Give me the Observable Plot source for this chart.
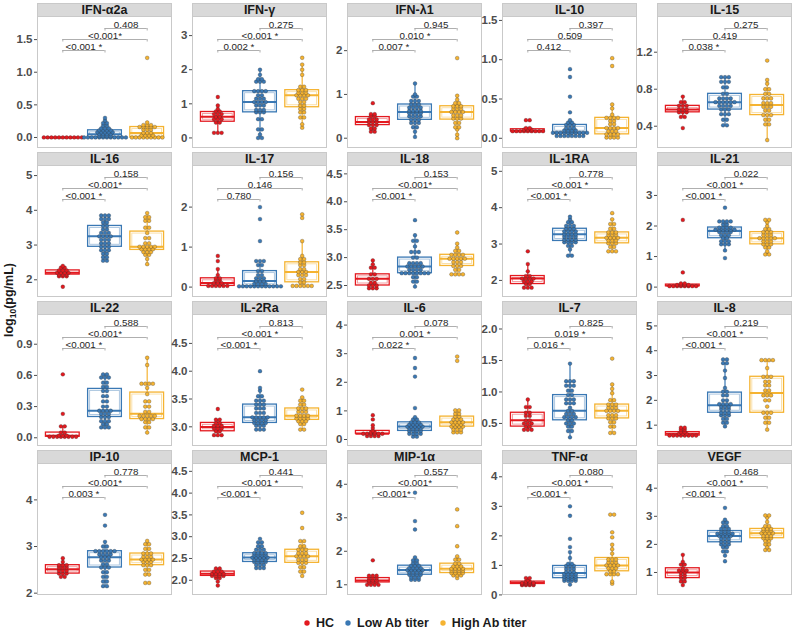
<!DOCTYPE html>
<html><head><meta charset="utf-8">
<script src="https://cdn.jsdelivr.net/npm/d3@7"></script>
<script src="https://cdn.jsdelivr.net/npm/@observablehq/plot@0.6"></script>
<style>
body{margin:0;background:#fff;font-family:"Liberation Sans",Arial,sans-serif;}
#chart{position:relative;width:795px;height:633px;overflow:hidden;background:#fff;}
.frame{position:absolute;border:1px solid #c9c9c9;box-sizing:border-box;}
.strip{position:absolute;background:#d9d9d9;border:1px solid #c9c9c9;box-sizing:border-box;font-weight:bold;font-size:12.5px;text-align:center;line-height:12px;color:#1a1a1a;}
.panel{position:absolute;}
.panel svg{overflow:visible;}
#ytitle{position:absolute;left:10px;top:300px;transform:translate(-50%,-50%) rotate(-90deg);font-weight:bold;font-size:12.5px;white-space:nowrap;color:#1a1a1a;}
#ytitle sub{font-size:8.5px;}
#legend{position:absolute;top:616px;left:302px;display:flex;align-items:center;font-weight:bold;font-size:12.5px;color:#1a1a1a;}
#legend .it{display:flex;align-items:center;margin-right:9px;}
#legend svg{margin-right:4px;}
</style></head><body><div id="chart"></div>
<script>
// ---------- data ----------
const cytokines = ["IFN-α2a","IFN-γ","IFN-λ1","IL-10","IL-15","IL-16","IL-17","IL-18","IL-1RA","IL-21","IL-22","IL-2Ra","IL-6","IL-7","IL-8","IP-10","MCP-1","MIP-1α","TNF-α","VEGF"];
const groups = ["HC","Low Ab titer","High Ab titer"];
const groupColors = ["#E3191F","#3A78B4","#F5B331"];

const yDomains = [[-0.169,1.854],[-0.31,3.56],[-0.235,2.78],[-0.13,1.55],[0.159,1.586],
  [1.49,5.29],[-0.26,3.04],[2.285,4.65],[1.53,5.16],[-0.34,3.98],
  [-0.084,1.186],[2.646,5.02],[-0.245,4.37],[0.134,2.23],[0.14,5.46],
  [1.95,4.78],[1.65,4.68],[0.68,4.62],[-0.02,4.45],[0.18,4.88]];
const yTicks = [[0,0.5,1,1.5],[0,1,2,3],[0,1,2],[0,0.5,1,1.5],[0.4,0.8,1.2],
  [2,3,4,5],[0,1,2],[2.5,3,3.5,4,4.5],[2,3,4,5],[0,1,2,3],
  [0,0.3,0.6,0.9],[3,3.5,4,4.5],[0,1,2,3,4],[0.5,1,1.5,2],[1,2,3,4,5],
  [2,3,4],[2,2.5,3,3.5,4,4.5],[1,2,3,4],[0,1,2,3,4],[1,2,3,4]];
const yTickDigits = [1,0,0,1,1, 0,0,1,0,0, 1,1,0,1,0, 0,1,0,0,0];

// p-values: [HC vs Low, HC vs High, Low vs High]
const pLabels = [
  ["<0.001 *","<0.001*","0.408"],["0.002 *","<0.001 *","0.275"],["0.007 *","0.010 *","0.945"],["0.412","0.509","0.397"],["0.038 *","0.419","0.275"],
  ["<0.001 *","<0.001*","0.158"],["0.780","0.146","0.156"],["<0.001 *","<0.001*","0.153"],["<0.001 *","<0.001 *","0.778"],["<0.001 *","<0.001 *","0.022"],
  ["<0.001 *","<0.001*","0.588"],["<0.001 *","<0.001 *","0.813"],["0.022 *","0.001 *","0.078"],["0.016 *","0.019 *","0.825"],["<0.001 *","<0.001 *","0.219"],
  ["0.003 *","<0.001*","0.778"],["<0.001 *","<0.001 *","0.441"],["<0.001*","<0.001*","0.557"],["<0.001 *","<0.001 *","0.080"],["<0.001 *","<0.001 *","0.468"]];

// observed values as [log10 value, number of subjects at that level]
const hcData = [
  [[0,11]],
  [[0.15,3],[0.45,2],[0.55,3],[0.62,2],[0.7,3],[0.78,2],[0.85,1],[0.95,1],[1.2,1]],
  [[0.15,2],[0.22,2],[0.3,3],[0.37,3],[0.43,3],[0.5,2],[0.55,2],[0.8,1]],
  [[0.09,9],[0.11,3],[0.13,2],[0.23,2]],
  [[0.38,1],[0.5,2],[0.55,3],[0.58,3],[0.62,3],[0.66,2],[0.72,1]],
  [[1.8,1],[2.1,3],[2.15,3],[2.2,4],[2.27,3],[2.35,2],[2.4,1]],
  [[0.03,6],[0.1,3],[0.17,2],[0.22,2],[0.3,1],[0.45,1],[0.65,1],[0.78,1]],
  [[2.45,3],[2.5,3],[2.55,2],[2.62,3],[2.7,2],[2.82,2],[2.88,1],[2.95,1]],
  [[1.8,3],[1.9,2],[1.97,3],[2.05,4],[2.12,2],[2.25,1],[2.45,1],[2.8,1]],
  [[0.03,8],[0.07,4],[0.12,2],[0.48,1],[2.2,1]],
  [[0.01,8],[0.02,3],[0.05,2],[0.11,2],[0.23,1],[0.61,1]],
  [[2.85,3],[2.92,2],[2.97,3],[3.02,3],[3.07,2],[3.13,2],[3.32,1]],
  [[0.12,4],[0.2,6],[0.25,2],[0.3,1],[0.4,1],[0.5,1],[0.7,1],[0.85,1]],
  [[0.4,3],[0.45,2],[0.5,3],[0.55,2],[0.62,2],[0.67,2],[0.76,2],[0.88,1]],
  [[0.58,8],[0.65,3],[0.72,2],[0.82,2],[0.9,2]],
  [[2.35,2],[2.42,3],[2.48,3],[2.55,3],[2.6,3],[2.67,1],[2.75,1]],
  [[1.88,1],[1.97,1],[2.05,2],[2.1,4],[2.15,4],[2.2,3],[2.27,2]],
  [[1.0,4],[1.07,3],[1.13,3],[1.2,3],[1.27,3],[1.73,1]],
  [[0.33,4],[0.37,4],[0.4,4],[0.45,2],[0.5,1],[0.57,2]],
  [[0.55,1],[0.68,2],[0.8,2],[0.9,2],[1.0,2],[1.07,3],[1.15,1],[1.28,2],[1.38,1],[1.63,1]]
];
const lowData = [
  [[0,12],[0.02,4],[0.05,4],[0.08,5],[0.11,4],[0.14,3],[0.18,2],[0.22,2],[0.26,1],[0.3,1]],
  [[0,2],[0.1,1],[0.25,2],[0.55,2],[0.75,3],[0.82,3],[0.95,3],[1.05,4],[1.15,3],[1.25,2],[1.37,4],[1.65,3],[1.72,2],[1.85,1],[2.0,1]],
  [[0.03,1],[0.15,1],[0.25,2],[0.35,3],[0.42,3],[0.5,4],[0.57,4],[0.63,4],[0.7,4],[0.77,3],[0.85,3],[0.95,2],[1.0,1],[1.25,1]],
  [[0.03,8],[0.07,10],[0.1,4],[0.13,3],[0.17,3],[0.2,2],[0.23,1],[0.33,1],[0.53,1],[0.78,1],[0.88,1]],
  [[0.41,2],[0.47,2],[0.53,3],[0.58,3],[0.62,4],[0.66,6],[0.7,4],[0.75,2],[0.82,2],[0.88,3],[0.93,3]],
  [[2.55,2],[2.65,2],[2.75,2],[2.85,3],[2.95,3],[3.05,3],[3.15,3],[3.25,4],[3.35,3],[3.45,2],[3.55,2],[3.65,2],[3.75,3],[3.85,3]],
  [[0.02,12],[0.08,4],[0.15,3],[0.22,3],[0.3,2],[0.4,2],[0.55,2],[0.65,3],[1.15,1],[1.7,1],[2.0,1]],
  [[2.48,1],[2.57,2],[2.65,2],[2.72,8],[2.78,4],[2.84,5],[2.9,4],[3.0,2],[3.1,3],[3.2,1],[3.3,2],[3.4,1],[3.67,1]],
  [[2.68,2],[2.85,1],[2.95,2],[3.05,4],[3.12,4],[3.2,4],[3.27,4],[3.35,4],[3.42,3],[3.5,3],[3.6,2],[3.68,1],[3.75,1]],
  [[0.95,1],[1.2,1],[1.4,3],[1.5,3],[1.6,2],[1.7,3],[1.8,4],[1.88,6],[1.95,4],[2.05,2],[2.15,4],[2.6,1]],
  [[0.1,3],[0.13,2],[0.16,3],[0.2,3],[0.23,3],[0.26,4],[0.3,2],[0.35,2],[0.4,2],[0.45,2],[0.49,2],[0.53,2],[0.58,3],[0.61,2]],
  [[2.95,3],[3.02,3],[3.07,4],[3.12,4],[3.17,5],[3.25,3],[3.33,3],[3.4,3],[3.47,3],[3.55,2],[3.65,1],[3.7,1],[4.0,1]],
  [[0.1,2],[0.2,4],[0.3,4],[0.38,4],[0.45,5],[0.52,4],[0.6,3],[0.7,2],[0.78,1],[1.1,1],[2.2,1],[2.5,1],[2.85,1]],
  [[0.28,1],[0.38,2],[0.45,2],[0.5,3],[0.55,2],[0.6,4],[0.65,3],[0.7,2],[0.75,1],[0.82,3],[0.88,3],[0.95,2],[1.02,2],[1.1,3],[1.17,3],[1.45,1]],
  [[0.95,1],[1.1,2],[1.25,2],[1.4,3],[1.5,3],[1.65,3],[1.75,3],[1.85,4],[2.0,2],[2.2,2],[2.35,2],[2.5,1],[2.9,1],[3.2,1],[3.5,2],[3.65,2]],
  [[2.15,2],[2.25,2],[2.35,2],[2.45,2],[2.55,3],[2.62,2],[2.7,3],[2.77,3],[2.83,4],[2.9,6],[3.0,2],[3.1,1],[3.45,1],[3.68,1]],
  [[2.28,3],[2.35,3],[2.42,4],[2.47,4],[2.52,5],[2.57,4],[2.62,4],[2.7,3],[2.78,2],[2.87,2],[2.95,1]],
  [[1.15,3],[1.22,3],[1.3,4],[1.37,4],[1.44,5],[1.5,4],[1.57,3],[1.65,2],[1.73,2],[1.82,1],[2.65,1],[2.9,1],[3.75,1]],
  [[0.35,1],[0.48,4],[0.55,4],[0.62,4],[0.7,4],[0.78,3],[0.88,3],[0.98,3],[1.05,2],[1.25,1],[1.45,1],[1.62,1],[1.9,1],[2.68,1],[3.0,1]],
  [[1.4,1],[1.6,1],[1.75,2],[1.9,2],[2.0,3],[2.1,3],[2.2,3],[2.3,4],[2.38,5],[2.45,3],[2.55,3],[2.65,2],[2.78,2],[2.88,1],[3.3,1]]
];
const highData = [
  [[0,9],[0.03,4],[0.07,3],[0.12,3],[0.16,5],[0.19,3],[0.23,1],[1.22,1]],
  [[0.3,1],[0.4,1],[0.6,2],[0.75,2],[0.85,2],[0.95,2],[1.05,2],[1.15,3],[1.25,4],[1.32,3],[1.4,3],[1.5,2],[1.85,1],[2.0,1],[2.15,1],[2.35,1]],
  [[0,1],[0.08,1],[0.2,1],[0.25,2],[0.35,2],[0.45,3],[0.52,3],[0.6,4],[0.67,3],[0.73,3],[0.8,2],[0.88,1],[0.97,1],[1.83,1]],
  [[0.01,4],[0.05,4],[0.09,3],[0.13,4],[0.18,2],[0.22,2],[0.26,4],[0.3,1],[0.38,1],[0.43,1],[0.92,1],[1.02,1]],
  [[0.25,1],[0.42,2],[0.47,2],[0.52,3],[0.57,2],[0.61,3],[0.65,3],[0.7,3],[0.75,2],[0.8,2],[0.86,1],[0.9,1],[1.11,1]],
  [[2.45,1],[2.6,1],[2.72,2],[2.8,3],[2.88,4],[2.95,5],[3.05,2],[3.2,2],[3.35,1],[3.5,2],[3.7,2],[3.8,2],[3.92,1]],
  [[0.03,6],[0.12,2],[0.2,2],[0.3,3],[0.38,3],[0.45,2],[0.55,2],[0.62,2],[0.7,2],[0.78,1],[1.15,1],[1.73,1],[1.82,1]],
  [[2.7,4],[2.78,2],[2.85,3],[2.92,3],[2.98,5],[3.05,4],[3.12,2],[3.18,1],[3.25,1],[3.45,1]],
  [[2.8,3],[2.92,2],[3.02,3],[3.1,3],[3.17,4],[3.25,3],[3.32,3],[3.42,2],[3.55,2],[3.68,1],[3.85,1]],
  [[1.07,2],[1.17,1],[1.3,2],[1.4,3],[1.5,3],[1.6,5],[1.7,3],[1.8,3],[1.9,2],[2.0,1],[2.12,1],[2.2,2]],
  [[0.05,1],[0.1,2],[0.15,2],[0.18,4],[0.21,5],[0.25,2],[0.3,2],[0.35,2],[0.42,1],[0.48,1],[0.52,4],[0.7,1],[0.77,1]],
  [[2.95,2],[3.05,2],[3.1,3],[3.15,4],[3.2,4],[3.27,3],[3.33,3],[3.4,2],[3.47,2],[3.53,1],[3.67,1]],
  [[0.25,3],[0.35,3],[0.45,4],[0.52,3],[0.6,4],[0.7,3],[0.8,2],[0.9,2],[1.02,2],[2.75,1],[2.9,1]],
  [[0.35,2],[0.45,2],[0.52,2],[0.58,3],[0.63,3],[0.7,4],[0.75,3],[0.8,3],[0.87,2],[0.98,1],[1.05,1],[1.12,1],[1.53,1]],
  [[0.82,1],[1.1,2],[1.3,2],[1.5,3],[1.75,1],[2.0,2],[2.2,3],[2.4,2],[2.6,2],[2.75,2],[2.95,3],[3.3,1],[3.62,4]],
  [[2.22,2],[2.4,2],[2.5,2],[2.6,3],[2.67,3],[2.72,4],[2.78,3],[2.85,3],[2.95,2],[3.05,2],[3.12,1]],
  [[2.1,1],[2.2,2],[2.3,2],[2.4,3],[2.47,3],[2.55,4],[2.62,3],[2.7,3],[2.78,2],[2.9,2],[3.2,1],[3.55,1]],
  [[1.2,1],[1.28,3],[1.35,4],[1.42,4],[1.48,4],[1.55,3],[1.63,2],[1.75,2],[1.85,1],[2.15,1],[2.75,1],[3.25,1]],
  [[0.38,1],[0.45,1],[0.7,4],[0.8,2],[0.9,3],[1.0,4],[1.1,3],[1.2,3],[1.4,1],[1.55,1],[1.7,1],[1.95,1],[2.12,1],[2.72,2]],
  [[1.8,2],[1.9,1],[2.0,2],[2.12,2],[2.22,3],[2.3,3],[2.4,4],[2.48,3],[2.55,3],[2.65,2],[2.8,1],[2.95,1],[3.03,2]]
];

// ---------- layout ----------
const frameW = 135, stripH = 13, plotH = 132, ml = 22;
const colLeft = c => 37 + 155 * c;
const rowTop = r => 3 + 149 * r;
const unitPx = frameW / 3.2;
const dotSpacing = 3.8;
const bracketOffsets = [34, 23, 12]; // px below top of panel
const bracketPairs = [[1,2],[1,3],[2,3]];

const chart = document.getElementById("chart");

function boxStats(vals) {
  const s = vals.slice().sort(d3.ascending);
  const q1 = d3.quantile(s, 0.25), med = d3.quantile(s, 0.5), q3 = d3.quantile(s, 0.75);
  const iqr = q3 - q1;
  const lo = d3.min(s.filter(v => v >= q1 - 1.5 * iqr));
  const hi = d3.max(s.filter(v => v <= q3 + 1.5 * iqr));
  return {q1, med, q3, lo, hi};
}

cytokines.forEach((name, i) => {
  const r = Math.floor(i / 5), c = i % 5;
  const left = colLeft(c), top = rowTop(r);
  const [lo, hi] = yDomains[i];
  const perPx = (hi - lo) / plotH;

  const frame = document.createElement("div");
  frame.className = "frame";
  Object.assign(frame.style, {left: left + "px", top: top + "px", width: frameW + "px", height: (stripH + plotH) + "px"});
  chart.appendChild(frame);
  const strip = document.createElement("div");
  strip.className = "strip";
  Object.assign(strip.style, {left: left + "px", top: top + "px", width: frameW + "px", height: (stripH + 1) + "px"});
  strip.textContent = name;
  chart.appendChild(strip);

  const sets = [hcData[i], lowData[i], highData[i]];
  const points = [], boxes = [];
  sets.forEach((pairs, gi) => {
    const g = gi + 1, color = groupColors[gi];
    const vals = [];
    pairs.forEach(([v, n]) => {
      for (let k = 0; k < n; k++) {
        vals.push(v);
        points.push({x: g + (k - (n - 1) / 2) * dotSpacing / unitPx, y: v, color});
      }
    });
    const st = boxStats(vals);
    boxes.push({g, color, ...st, tall: (st.q3 - st.q1) / perPx > 5});
  });

  const brackets = bracketPairs.map(([a, b], k) => {
    const y = hi - bracketOffsets[k] * perPx;
    return {a, b, y, yt: y - 2.5 * perPx, label: pLabels[i][k]};
  });
  const bracketEnds = brackets.flatMap(d => [{x: d.a, y1: d.y, y2: d.yt}, {x: d.b, y1: d.y, y2: d.yt}]);

  const digits = yTickDigits[i];
  const svg = Plot.plot({
    width: frameW + ml, height: plotH,
    marginLeft: ml, marginRight: 0, marginTop: 0, marginBottom: 0,
    x: {domain: [0.4, 3.6], axis: null},
    y: {domain: yDomains[i]},
    color: {type: "identity"},
    style: {background: "transparent", fontFamily: "'Liberation Sans', Arial, sans-serif"},
    marks: [
      Plot.axisY({ticks: yTicks[i], tickFormat: d => d.toFixed(digits), tickSize: 3, tickPadding: 2, fontSize: 11.5, fontWeight: "bold", color: "#4d4d4d", label: null}),
      Plot.ruleY(brackets, {y: "y", x1: "a", x2: "b", stroke: "#a6a6a6", strokeWidth: 0.9}),
      Plot.ruleX(bracketEnds, {x: "x", y1: "y1", y2: "y2", stroke: "#a6a6a6", strokeWidth: 0.9}),
      Plot.text(brackets, {x: d => (d.a + d.b) / 2, y: "y", text: "label", lineAnchor: "bottom", dy: -1, fontSize: 9.8, fill: "#262626", fontWeight: "normal"}),
      Plot.ruleX(boxes, {x: "g", y1: "q3", y2: "hi", stroke: "color", strokeWidth: 1.2}),
      Plot.ruleX(boxes, {x: "g", y1: "lo", y2: "q1", stroke: "color", strokeWidth: 1.2}),
      Plot.rect(boxes, {x1: d => d.g - 0.4, x2: d => d.g + 0.4, y1: "q1", y2: "q3", stroke: "color", fill: "none", strokeWidth: 1.3}),
      Plot.rect(boxes.filter(d => d.tall), {x1: d => d.g - 0.4, x2: d => d.g + 0.4, y1: "q1", y2: "q3", inset: 2, stroke: "color", strokeOpacity: 0.45, fill: "none", strokeWidth: 0.9}),
      Plot.ruleY(boxes, {y: "med", x1: d => d.g - 0.4, x2: d => d.g + 0.4, stroke: "color", strokeWidth: 2}),
      Plot.dot(points, {x: "x", y: "y", r: 1.9, fill: "color", stroke: "#2a2a2a", strokeWidth: 0.4, strokeOpacity: 0.7})
    ]
  });
  const holder = document.createElement("div");
  holder.className = "panel";
  Object.assign(holder.style, {left: (left - ml) + "px", top: (top + stripH) + "px"});
  holder.appendChild(svg);
  chart.appendChild(holder);
});

// y title
const yt = document.createElement("div");
yt.id = "ytitle";
yt.innerHTML = "log<sub>10</sub>(pg/mL)";
chart.appendChild(yt);

// legend
const lg = document.createElement("div");
lg.id = "legend";
groups.forEach((g, gi) => {
  const it = document.createElement("div");
  it.className = "it";
  it.innerHTML = `<svg width="10" height="10"><circle cx="5" cy="5" r="2.7" fill="${groupColors[gi]}"/></svg><span>${g}</span>`;
  lg.appendChild(it);
});
chart.appendChild(lg);
</script></body></html>
